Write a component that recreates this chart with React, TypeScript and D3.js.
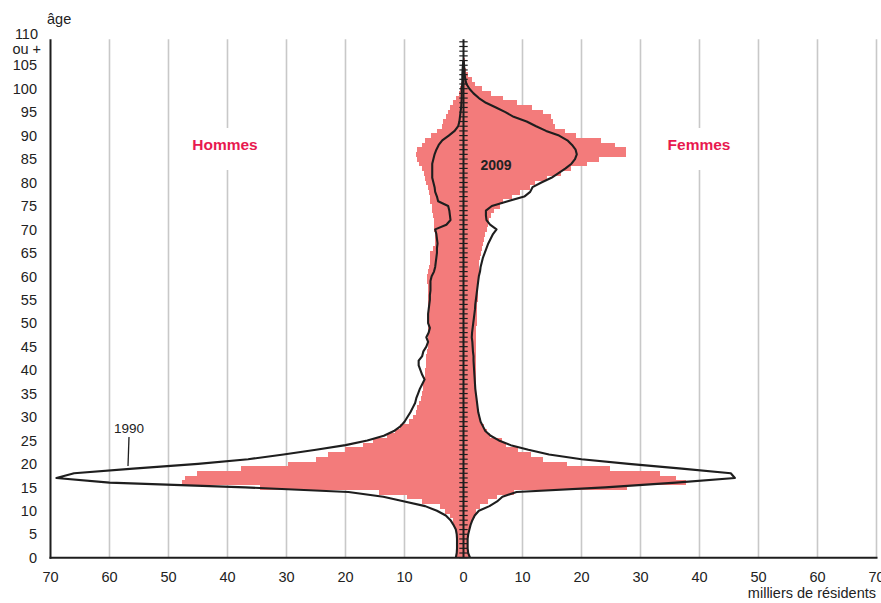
import React from 'react';
import * as d3 from 'd3';

// population by single year of age, thousands (index = age)
const men2009 = [
  1.2, 1.15, 1.15, 1.15, 1.15, 1.15, 1.2, 1.6, 1.8, 2.3,
  3.1, 4.0, 7.1, 9.6, 14.4, 34.5, 47.7, 47.2, 45.2, 37.7,
  29.8, 25.0, 22.9, 20.1, 17.0, 15.3, 13.0, 11.6, 10.8, 9.2,
  8.6, 8.0, 7.9, 7.6, 7.2, 7.0, 6.9, 6.8, 6.7, 6.6,
  6.5, 6.4, 6.3, 6.3, 6.2, 6.1, 6.1, 6.0, 6.0, 6.0,
  6.0, 6.0, 5.9, 6.0, 6.0, 6.1, 6.0, 6.0, 6.1, 6.2,
  6.2, 6.0, 5.9, 5.7, 5.7, 5.6, 5.2, 4.9, 4.9, 4.9,
  5.0, 5.0, 5.0, 5.2, 5.4, 5.4, 5.6, 5.7, 5.9, 6.0,
  6.4, 6.6, 6.7, 7.0, 7.5, 7.9, 8.0, 7.8, 7.0, 6.5,
  5.5, 4.5, 3.6, 3.4, 3.0, 2.6, 2.3, 1.7, 1.2, 0.8,
  0.6, 0.4, 0.3, 0.2, 0.15, 0.1,
];

const women2009 = [
  0.9, 0.8, 0.8, 0.8, 0.8, 0.8, 0.9, 1.3, 1.5, 1.9,
  2.1, 2.8, 4.2, 5.6, 8.5, 27.7, 37.7, 36.1, 33.3, 24.9,
  17.5, 13.5, 11.4, 9.3, 7.2, 6.5, 4.5, 4.0, 3.4, 3.0,
  2.7, 2.5, 2.4, 2.3, 2.3, 2.2, 2.2, 2.1, 2.1, 2.1,
  2.1, 2.1, 2.1, 2.1, 2.1, 2.1, 2.1, 2.2, 2.2, 2.2,
  2.3, 2.3, 2.3, 2.3, 2.3, 2.4, 2.4, 2.4, 2.5, 2.5,
  2.6, 2.6, 2.7, 2.7, 2.8, 2.9, 3.1, 3.3, 3.4, 3.6,
  3.9, 4.1, 4.4, 4.6, 5.1, 6.2, 6.7, 8.2, 9.6, 11.3,
  12.1, 14.1, 16.6, 18.3, 20.9, 23.0, 27.5, 27.5, 25.7, 23.3,
  19.1, 17.2, 15.5, 15.2, 14.9, 13.5, 11.6, 9.0, 6.7, 4.6,
  3.1, 2.0, 1.4, 0.8, 0.5, 0.3, 0.2, 0.1,
];

const men1990 = [
  1.3, 1.15, 1.1, 1.1, 1.1, 1.15, 1.3, 1.7, 2.2, 3.0,
  4.5, 6.5, 10.0, 13.6, 19.5, 37, 60, 69, 66, 56,
  45, 36.5, 30.5, 25, 20, 16.3, 13.5, 11.8, 10.7, 10.0,
  9.5, 9.0, 8.6, 8.2, 8.0, 7.7, 7.4, 7.0, 6.6, 7.0,
  7.3, 7.6, 7.6, 7.0, 6.8, 6.3, 6.0, 6.3, 5.9, 5.7,
  6.0, 6.0, 6.0, 5.9, 5.8, 5.7, 5.7, 5.6, 5.6, 5.6,
  5.4, 5.0, 4.8, 4.7, 4.6, 4.5, 4.5, 4.4, 4.5, 4.6,
  4.8, 2.9, 2.2, 2.3, 2.4, 2.6, 4.3, 4.5, 4.8, 4.9,
  5.1, 5.3, 5.3, 5.3, 5.3, 5.1, 4.9, 4.6, 4.2, 3.6,
  2.5, 1.5, 0.9, 0.7, 0.6, 0.5, 0.4, 0.35, 0.3, 0.3,
  0.3, 0.2, 0.2, 0.2, 0.15, 0.1, 0,
];

const women1990 = [
  1.1, 0.8, 0.7, 0.7, 0.7, 0.8, 1.0, 1.2, 1.5, 1.9,
  2.6, 4.4, 5.7, 6.6, 9.0, 24, 36, 46, 45.3, 37,
  28, 20, 14.5, 11, 8, 6, 4.6, 3.7, 3.3, 2.9,
  2.7, 2.5, 2.4, 2.3, 2.2, 2.1, 2.0, 1.95, 1.9, 1.85,
  1.8, 1.75, 1.7, 1.7, 1.6, 1.55, 1.5, 1.4, 1.45, 1.55,
  1.65, 1.75, 1.85, 1.95, 2.0, 2.1, 2.2, 2.3, 2.4, 2.5,
  2.6, 2.8, 2.9, 3.1, 3.3, 3.6, 3.9, 4.2, 4.6, 5.0,
  5.6, 4.5, 3.9, 3.8, 3.8, 4.8, 7.5, 10.3, 11.3, 11.7,
  13.2, 14.9, 16.1, 17.3, 18.3, 18.9, 19.2, 19.0, 18.4, 17.6,
  16.2, 14.0, 12.3, 10.7, 8.5, 7.1, 5.5, 3.8, 2.6, 1.7,
  1.0, 0.5, 0.3, 0.2, 0.15, 0.1, 0,
];

const ageTicks = d3.range(0, 106, 5);
const valueTicks = [10, 20, 30, 40, 50, 60, 70];

const W = 881;
const H = 603;
const FONT = '"Liberation Sans", Arial, Helvetica, sans-serif';
const PINK = '#f37b7b';
const RED = '#e8194f';
const GRID = '#c8c8c8';
const INK = '#1e1e1e';

const App: React.FC = () => {
  const y = d3.scaleLinear().domain([0, 110]).range([557.7, 41.8]);
  const xL = d3.scaleLinear().domain([0, 70]).range([463.5, 50.5]);
  const xR = d3.scaleLinear().domain([0, 70]).range([463.5, 876.5]);
  const top = y(110) - 2.5;
  const bottom = y(0);

  const band = (a: number) => {
    const y0 = y(Math.max(0, a - 0.5));
    const y1 = y(a + 0.5);
    return { y: y1, h: y0 - y1 + 0.4 };
  };

  const lineL = d3.line<number>().x(v => xL(v)).y((_, i) => y(i));
  const lineR = d3.line<number>().x(v => xR(v)).y((_, i) => y(i));

  const textBase = { fontFamily: FONT, fill: '#222' };

  return (
    <div style={{ position: 'absolute', left: 0, top: 0 }}>
      <svg width={W} height={H} style={{ display: 'block', background: '#fff' }}>
        {/* grid */}
        <g stroke={GRID} strokeWidth={1.6}>
          {valueTicks.map(v => (
            <line key={'gr' + v} x1={xR(v)} x2={xR(v)} y1={top} y2={bottom} />
          ))}
          {valueTicks.filter(v => v < 70).map(v => (
            <line key={'gl' + v} x1={xL(v)} x2={xL(v)} y1={top} y2={bottom} />
          ))}
        </g>

        {/* white boxes behind sex labels */}
        <rect x={190} y={128} width={72} height={42} fill="#fff" />
        <rect x={664} y={128} width={72} height={42} fill="#fff" />

        {/* 2009 bars */}
        <g fill={PINK} shapeRendering="crispEdges">
          {men2009.map((v, a) => {
            const b = band(a);
            return <rect key={'m' + a} x={xL(v)} y={b.y} width={xL(0) - xL(v)} height={b.h} />;
          })}
          {women2009.map((v, a) => {
            const b = band(a);
            return <rect key={'f' + a} x={xR(0)} y={b.y} width={xR(v) - xR(0)} height={b.h} />;
          })}
        </g>

        {/* 1990 outlines */}
        <g fill="none" stroke={INK} strokeWidth={2.1} strokeLinejoin="round">
          <path d={lineL(men1990) || ''} />
          <path d={lineR(women1990) || ''} />
        </g>

        {/* central axis with yearly ticks */}
        <g stroke={INK}>
          {d3.range(0, 111).map(a => (
            <line key={'t' + a} x1={xR(0) - 4.2} x2={xR(0) + 4.2} y1={y(a)} y2={y(a)} strokeWidth={1.2} />
          ))}
          <line x1={xR(0)} x2={xR(0)} y1={top} y2={bottom} strokeWidth={2} />
        </g>

        {/* left and bottom axes */}
        <line x1={xL(70)} x2={xL(70)} y1={top} y2={bottom + 1} stroke={INK} strokeWidth={2} />
        <line x1={xL(70) - 1} x2={xR(70) + 1} y1={bottom} y2={bottom} stroke={INK} strokeWidth={2} />

        {/* age labels */}
        <g {...textBase} fontSize={14.5} textAnchor="end">
          {ageTicks.map(a => (
            <text key={'al' + a} x={37} y={y(a)} dy="0.36em">{a}</text>
          ))}
          <text x={38} y={y(110) - 8} dy="0.36em">110</text>
          <text x={41} y={y(110) + 7} dy="0.36em">ou +</text>
        </g>
        <text {...textBase} x={47} y={24} fontSize={14.5}>âge</text>

        {/* value labels */}
        <g {...textBase} fontSize={14.5} textAnchor="middle">
          {valueTicks.map(v => (
            <text key={'xl' + v} x={xL(v)} y={582}>{v}</text>
          ))}
          <text x={xR(0)} y={582}>0</text>
          {valueTicks.map(v => (
            <text key={'xr' + v} x={xR(v)} y={582}>{v}</text>
          ))}
        </g>
        <text {...textBase} x={876} y={598} fontSize={14.5} textAnchor="end">milliers de résidents</text>

        {/* annotations */}
        <text x={225} y={150} fontFamily={FONT} fontWeight="bold" fontSize={15.5} fill={RED} textAnchor="middle">Hommes</text>
        <text x={699} y={150} fontFamily={FONT} fontWeight="bold" fontSize={15.5} fill={RED} textAnchor="middle">Femmes</text>
        <text x={496} y={170} fontFamily={FONT} fontWeight="bold" fontSize={14} fill="#222" textAnchor="middle">2009</text>
        <text {...textBase} x={129} y={433} fontSize={13.5} textAnchor="middle">1990</text>
        <line x1={129} y1={437} x2={128} y2={466} stroke={INK} strokeWidth={1.3} />
      </svg>
    </div>
  );
};

export default App;
